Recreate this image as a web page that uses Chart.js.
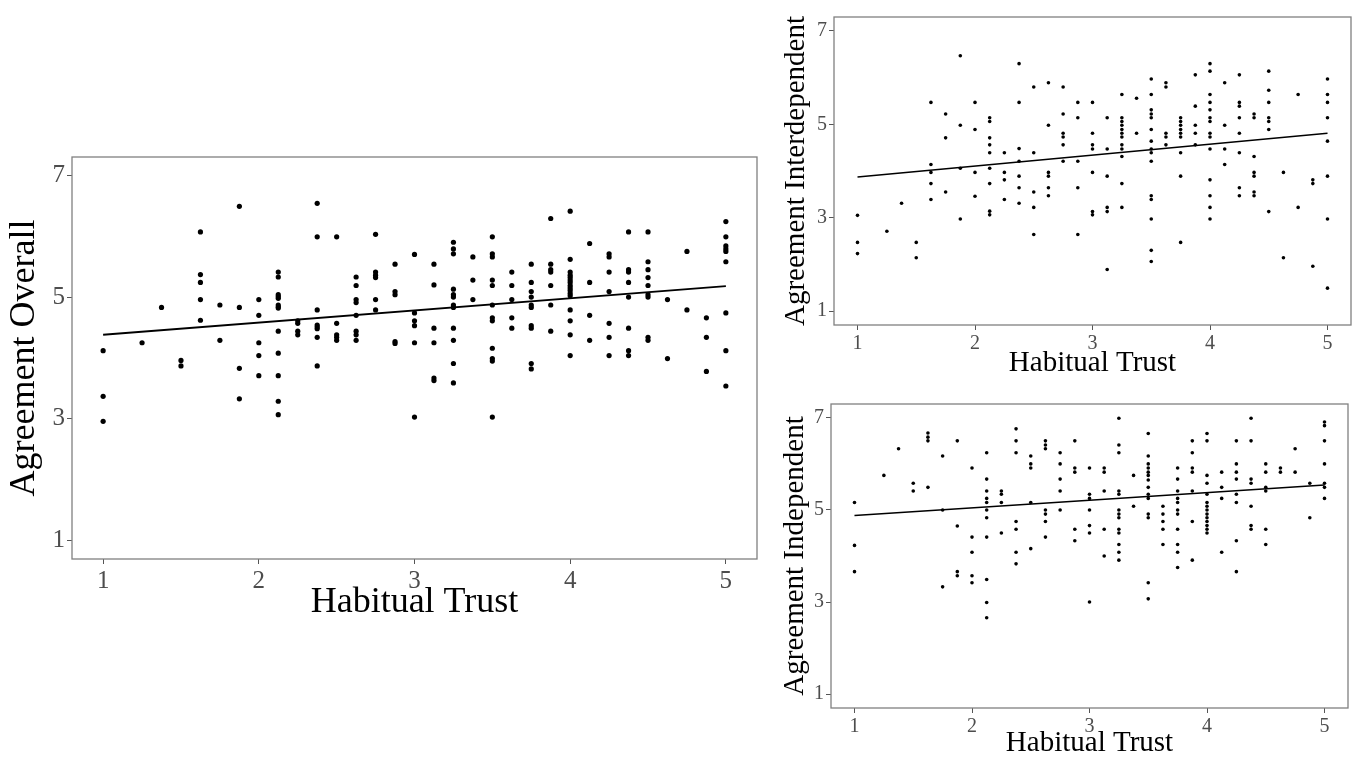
<!DOCTYPE html>
<html>
<head>
<meta charset="utf-8">
<script src="https://cdn.jsdelivr.net/npm/chart.js@4.4.1/dist/chart.umd.min.js"></script>
<style>
  body { margin: 0; background: #fff; width: 1355px; height: 758px; position: relative; overflow: hidden; }
  canvas { position: absolute; }
</style>
</head>
<body>
<canvas id="overallChart" width="770" height="490" style="left:0;top:140px"></canvas>
<canvas id="interChart" width="579" height="385" style="left:776px;top:0"></canvas>
<canvas id="indepChart" width="579" height="368" style="left:776px;top:390px"></canvas>
<script>
// Habitual trust levels (x) shared by the three panels
const trustLevels = [1, 1.25, 1.375, 1.5, 1.625, 1.75, 1.875, 2, 2.125, 2.25, 2.375, 2.5, 2.625, 2.75, 2.875, 3,
  3.125, 3.25, 3.375, 3.5, 3.625, 3.75, 3.875, 4, 4.125, 4.25, 4.375, 4.5, 4.625, 4.75, 4.875, 5];
const xTicks = [1, 2, 3, 4, 5];
const yTicks = [1, 3, 5, 7];

// Agreement Overall, one list per trust level
const overallScores = [
  [4.12, 3.37, 2.96], [4.25], [4.83], [3.96, 3.87],
  [6.07, 5.37, 5.24, 4.96, 4.62], [4.87, 4.29], [6.49, 4.83, 3.83, 3.33],
  [4.96, 4.70, 4.25, 4.04, 3.71],
  [5.41, 5.33, 5.04, 5.01, 4.98, 4.87, 4.84, 4.82, 4.44, 4.08, 3.71, 3.29, 3.07],
  [4.61, 4.57, 4.44, 4.38],
  [6.54, 5.99, 4.79, 4.54, 4.51, 4.48, 4.34, 3.87],
  [5.99, 4.57, 4.38, 4.34, 4.29],
  [5.33, 5.19, 4.96, 4.91, 4.70, 4.44, 4.38, 4.29],
  [6.03, 5.41, 5.36, 5.32, 4.96, 4.79],
  [5.54, 5.09, 5.04, 4.27, 4.24],
  [5.70, 4.74, 4.61, 4.53, 4.25, 3.03],
  [5.54, 5.20, 4.49, 4.25, 3.67, 3.63],
  [5.90, 5.79, 5.71, 5.13, 5.04, 5.00, 4.87, 4.83, 4.49, 4.29, 3.91, 3.59],
  [5.66, 5.28, 4.96],
  [5.99, 5.71, 5.66, 5.28, 5.19, 4.87, 4.66, 4.61, 4.16, 3.99, 3.95, 3.03],
  [5.41, 5.19, 4.96, 4.66, 4.49],
  [5.54, 5.24, 5.09, 5.00, 4.87, 4.83, 4.53, 4.49, 3.91, 3.82],
  [6.29, 5.54, 5.45, 5.41, 5.19, 4.87, 4.44],
  [6.41, 5.62, 5.41, 5.36, 5.32, 5.28, 5.24, 5.19, 5.15, 5.11, 5.06, 5.02, 4.79, 4.61, 4.38, 4.04],
  [5.88, 5.24, 4.70, 4.29],
  [5.71, 5.66, 5.41, 5.09, 4.57, 4.34, 4.04],
  [6.07, 5.45, 5.41, 5.24, 5.00, 4.49, 4.12, 4.04],
  [6.07, 5.58, 5.45, 5.32, 5.19, 5.04, 5.00, 4.34, 4.29],
  [4.96, 3.99], [5.75, 4.79], [4.66, 4.34, 3.78],
  [6.24, 5.99, 5.84, 5.79, 5.75, 5.58, 4.74, 4.12, 3.54]
];

// Agreement Interdependent
const interScores = [
  [3.05, 2.47, 2.23], [2.71], [3.31], [2.47, 2.14],
  [5.47, 4.14, 3.97, 3.73, 3.39], [5.22, 4.71, 3.55], [6.47, 4.98, 4.06, 2.97],
  [5.47, 4.89, 3.97, 3.46],
  [5.14, 5.06, 4.71, 4.56, 4.39, 4.06, 3.73, 3.14, 3.06],
  [4.39, 3.97, 3.81, 3.39],
  [6.30, 5.47, 4.48, 4.21, 3.89, 3.64, 3.31],
  [5.80, 4.39, 3.55, 3.22, 2.64],
  [5.89, 4.98, 3.97, 3.89, 3.64, 3.47],
  [5.80, 5.22, 4.81, 4.73, 4.56, 4.21],
  [5.47, 5.14, 4.21, 3.64, 2.64],
  [5.47, 4.81, 4.56, 4.47, 3.97, 3.13, 3.06],
  [5.14, 4.47, 3.89, 3.22, 3.13, 1.89],
  [5.64, 5.14, 5.06, 4.98, 4.89, 4.81, 4.73, 4.56, 4.47, 4.31, 3.73, 3.22],
  [5.56, 4.81],
  [5.97, 5.64, 5.31, 5.22, 5.14, 4.89, 4.64, 4.47, 4.39, 4.21, 3.47, 3.39, 2.97, 2.30, 2.06],
  [5.89, 5.80, 4.81, 4.73, 4.56],
  [5.14, 5.06, 4.98, 4.89, 4.81, 4.73, 4.39, 3.89, 2.47],
  [6.06, 5.39, 4.98, 4.81, 4.56],
  [6.30, 6.14, 5.64, 5.47, 5.31, 5.14, 5.06, 4.81, 4.73, 4.47, 3.81, 3.47, 3.22, 2.97],
  [5.89, 4.98, 4.47, 4.14],
  [6.06, 5.47, 5.39, 5.14, 4.81, 4.39, 3.64, 3.47],
  [5.22, 5.14, 4.31, 3.97, 3.89, 3.55, 3.47],
  [6.14, 5.73, 5.47, 5.14, 5.06, 4.89, 3.13],
  [3.97, 2.14], [5.64, 3.22], [3.81, 3.73, 1.96],
  [5.97, 5.64, 5.47, 5.14, 4.64, 3.89, 2.97, 1.49]
];

// Agreement Independent
const indepScores = [
  [5.16, 4.23, 3.66], [5.75], [6.33], [5.58, 5.41],
  [6.67, 6.58, 6.50, 5.49], [6.17, 5.00, 3.33], [6.50, 4.65, 3.66, 3.57],
  [5.91, 4.41, 4.08, 3.57, 3.42],
  [6.24, 5.67, 5.41, 5.25, 5.16, 5.00, 4.83, 4.41, 3.49, 2.99, 2.66],
  [5.41, 5.34, 5.16, 4.50],
  [6.76, 6.50, 6.24, 4.75, 4.58, 4.08, 3.83],
  [6.17, 6.00, 5.91, 5.16, 4.16],
  [6.50, 6.41, 6.33, 5.00, 4.91, 4.75, 4.41],
  [6.24, 6.00, 5.67, 5.41, 5.00],
  [6.50, 5.91, 5.82, 4.58, 4.33],
  [5.91, 5.34, 5.25, 5.00, 4.66, 4.50, 3.00],
  [5.91, 5.82, 5.41, 4.58, 4.00],
  [6.99, 6.41, 6.24, 5.41, 5.34, 5.00, 4.91, 4.83, 4.58, 4.50, 4.25, 4.08, 3.91],
  [5.75, 5.08],
  [6.66, 6.17, 6.00, 5.91, 5.82, 5.75, 5.65, 5.49, 5.34, 5.25, 4.91, 4.83, 3.42, 3.07],
  [5.08, 4.91, 4.75, 4.58, 4.25],
  [5.91, 5.67, 5.41, 5.25, 5.16, 5.00, 4.91, 4.58, 4.25, 4.08, 3.75],
  [6.50, 6.24, 5.91, 5.82, 5.41, 4.75, 3.91],
  [6.66, 6.50, 5.75, 5.58, 5.34, 5.16, 5.08, 5.00, 4.91, 4.83, 4.75, 4.66, 4.58, 4.50],
  [5.82, 5.49, 5.25, 4.08],
  [6.50, 6.00, 5.82, 5.67, 5.34, 5.16, 4.33, 3.66],
  [6.99, 6.50, 5.67, 5.58, 5.08, 4.66, 4.58],
  [6.00, 5.82, 5.49, 5.41, 4.58, 4.25],
  [5.91, 5.82], [6.33, 5.82], [5.58, 4.83],
  [6.91, 6.83, 6.50, 6.00, 5.58, 5.49, 5.25]
];

// Fitted lines, read at trust = 1 and trust = 5
const fitTrust = [1, 5];
const overallFit = [4.38, 5.18];
const interFit = [3.87, 4.81];
const indepFit = [4.88, 5.54];

const FONT = "'Liberation Serif', 'Times New Roman', serif";

// grey frame round the plotting area
const panelBorder = {
  id: 'panelBorder',
  afterDatasetsDraw(chart) {
    const { ctx, chartArea: a } = chart;
    ctx.save();
    ctx.strokeStyle = '#808080';
    ctx.lineWidth = 1.3;
    ctx.strokeRect(a.left, a.top, a.width, a.height);
    ctx.restore();
  }
};

function makePanel(id, scores, fit, yLabel, o) {
  const points = scores.flatMap((col, i) => col.map(v => ({ x: trustLevels[i], y: v })));
  const line = fitTrust.map((x, i) => ({ x: x, y: fit[i] }));
  const axisCommon = {
    type: 'linear',
    min: 0.8, max: 5.2,
    grid: { drawOnChartArea: false, drawTicks: true, tickLength: 5, tickColor: '#555', tickWidth: 1 },
    border: { display: false },
    ticks: { color: '#4d4d4d', font: { family: FONT, size: o.tickSize }, padding: 2, maxRotation: 0 }
  };
  return new Chart(document.getElementById(id), {
    data: {
      datasets: [{
        type: 'scatter',
        data: points,
        pointRadius: o.dot,
        pointBackgroundColor: '#000',
        pointBorderWidth: 0
      }, {
        type: 'line',
        data: line,
        borderColor: '#000',
        borderWidth: o.lineWidth,
        pointRadius: 0,
        fill: false
      }]
    },
    options: {
      responsive: false,
      animation: false,
      layout: { padding: o.pad },
      plugins: { legend: { display: false }, tooltip: { enabled: false } },
      scales: {
        x: Object.assign({}, axisCommon, {
          afterBuildTicks: s => { s.ticks = xTicks.map(v => ({ value: v })); },
          afterFit: s => { s.height = o.xHeight; },
          title: { display: true, text: 'Habitual Trust', color: '#000',
                   font: { family: FONT, size: o.titleSize, lineHeight: o.xTitleLh }, padding: { top: 0, bottom: o.xTitlePad } }
        }),
        y: Object.assign({}, axisCommon, {
          min: 0.7, max: 7.3,
          afterBuildTicks: s => { s.ticks = yTicks.map(v => ({ value: v })); },
          afterFit: s => { s.width = o.yWidth; },
          title: { display: true, text: yLabel, color: '#000',
                   font: { family: FONT, size: o.titleSize }, padding: { top: o.yTitlePad, bottom: 0 } }
        })
      }
    },
    plugins: [panelBorder]
  });
}

makePanel('overallChart', overallScores, overallFit, 'Agreement Overall', {
  tickSize: 25, titleSize: 36, dot: 2.6, lineWidth: 2,
  pad: { left: 0, top: 10, right: 13, bottom: 0 },
  xHeight: 71, yWidth: 72, xTitlePad: 6, xTitleLh: 1.2, yTitlePad: 3
});

makePanel('interChart', interScores, interFit, 'Agreement Interdependent', {
  tickSize: 20, titleSize: 29, dot: 1.8, lineWidth: 1.5,
  pad: { left: 0, top: 17, right: 2, bottom: 0 },
  xHeight: 60, yWidth: 58, xTitlePad: 4, xTitleLh: 1.2, yTitlePad: 3
});

makePanel('indepChart', indepScores, indepFit, 'Agreement Independent', {
  tickSize: 20, titleSize: 29, dot: 1.8, lineWidth: 1.5,
  pad: { left: 0, top: 12, right: 7, bottom: 0 },
  xHeight: 50, yWidth: 55, xTitlePad: 0, xTitleLh: 1.0, yTitlePad: 2
});
</script>
</body>
</html>
